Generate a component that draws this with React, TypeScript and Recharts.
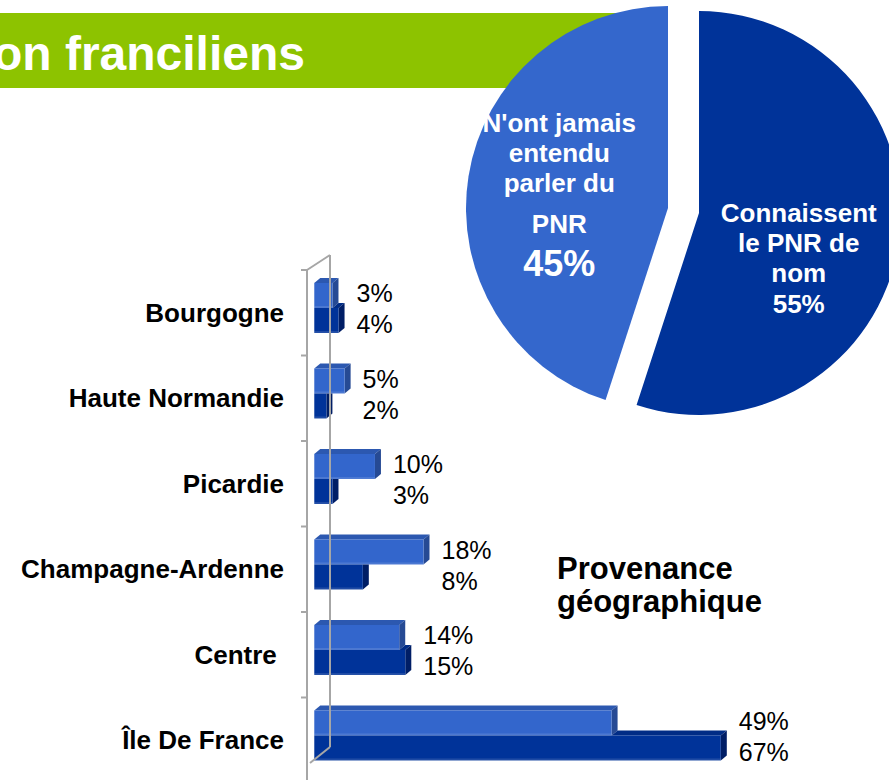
import React from 'react';
import { BarChart, Bar, XAxis, YAxis, LabelList, PieChart, Pie, Cell } from 'recharts';

const FONT = '"Liberation Sans", Arial, Helvetica, sans-serif';

// ---------- data ----------
const regions = ['Bourgogne', 'Haute Normandie', 'Picardie', 'Champagne-Ardenne', 'Centre ', 'Île De France'];
const seriesA = [3, 5, 10, 18, 14, 49]; // light blue bars
const seriesB = [4, 2, 3, 8, 15, 67]; // dark blue bars
const pieNames = ['Connaissent le PNR de nom', "N'ont jamais entendu parler du PNR"];
const pieValues = [55, 45];
const pieLabelLines = [
  ['Connaissent', 'le PNR de', 'nom'],
  ["N'ont jamais", 'entendu', 'parler du', 'PNR'],
];
const bannerText = 'on franciliens';
const titleLines = ['Provenance', 'géographique'];

const barData = regions.map((name, i) => ({ name, a: seriesA[i], b: seriesB[i] }));
const pieData = pieNames.map((name, i) => ({ name, value: pieValues[i] }));

// ---------- layout / style ----------
const W = 889;
const H = 780;
const BAR_MARGIN = { top: 265, right: 150, bottom: 2, left: 0 };
const Y_AXIS_W = 307;
const BAND = (H - BAR_MARGIN.top - BAR_MARGIN.bottom) / regions.length;
const DX = 6;
const DY = 5;
const AXIS = '#A6A6A6';
const LIGHT = { front: '#3366CC', top: '#2C58B0', side: '#264A94' };
const DARK = { front: '#003399', top: '#002C86', side: '#001E66' };
const GREEN = '#8DC300';

const pts = (arr: number[][]) => arr.map((p) => p.join(',')).join(' ');

const make3DBar = (kind: 'a' | 'b') => (props: any) => {
  const { x, y, width, height, payload } = props;
  if (!(width > 0)) return <g />;
  const c = kind === 'a' ? LIGHT : DARK;
  const right = x + width;
  let topStart = x;
  if (kind === 'b') {
    topStart = Math.min(right, x + (width * payload.a) / payload.b);
  }
  const clipSide = kind === 'b' && payload.a > payload.b;
  const side = clipSide
    ? [[right, y], [right + DX, y], [right + DX, y + height - DY], [right, y + height]]
    : [[right, y], [right + DX, y - DY], [right + DX, y + height - DY], [right, y + height]];
  return (
    <g>
      {right > topStart && (
        <polygon points={pts([[topStart, y], [topStart + DX, y - DY], [right + DX, y - DY], [right, y]])} fill={c.top} />
      )}
      <polygon points={pts(side)} fill={c.side} />
      <rect x={x} y={y} width={width} height={height} fill={c.front} />
      <rect x={x} y={y + height - 2} width={width} height={2} fill="#ffffff" opacity={0.12} />
    </g>
  );
};

const makeValueLabel = (kind: 'a' | 'b') => (props: any) => {
  const vb = props.viewBox && props.viewBox.width !== undefined ? props.viewBox : props;
  const { x, y, width, height } = vb;
  let idx = props.index;
  if (idx === undefined || idx === null) idx = Math.floor((y - BAR_MARGIN.top) / BAND);
  const d = barData[idx];
  if (!d) return null;
  const v = kind === 'a' ? d.a : d.b;
  const unit = width / v;
  const maxV = Math.max(d.a, d.b);
  const lx = x + unit * maxV + DX + 12;
  const ly = y + height / 2 + (kind === 'a' ? 7 : 13);
  return (
    <text x={lx} y={ly} fontSize={25} fontFamily={FONT} fill="#000">
      {`${v}%`}
    </text>
  );
};

const CategoryTick = (props: any) => {
  const { x, y, payload, index } = props;
  const boundary = y - BAND / 2 + DY;
  const isFirst = index === 0;
  const backTop = boundary - 15;
  const backBottom = boundary - 15 + BAND * regions.length - 21;
  return (
    <g>
      {isFirst && (
        <g stroke={AXIS} strokeWidth={2} fill="none">
          <line x1={x} y1={boundary} x2={x} y2={H} />
          <line x1={x} y1={boundary} x2={x + 23} y2={backTop} />
          <line x1={x + 23} y1={backTop} x2={x + 23} y2={backBottom} />
          <line x1={x + 23} y1={backBottom} x2={x + 3} y2={backBottom + 16} />
        </g>
      )}
      <line x1={x - 6} y1={boundary} x2={x} y2={boundary} stroke={AXIS} strokeWidth={2} />
      <text
        x={x - 23}
        y={y + 14}
        textAnchor="end"
        fontSize={26}
        fontWeight="bold"
        fontFamily={FONT}
        fill="#000"
        style={{ whiteSpace: 'pre' }}
      >
        {payload.value}
      </text>
    </g>
  );
};

const RAD = Math.PI / 180;
const renderPieLabel = (which: number) => (props: any) => {
  const { cx, cy, midAngle, outerRadius, index } = props;
  if (index !== which) return null;
  const r = outerRadius * 0.54;
  const ax = cx + r * Math.cos(-midAngle * RAD);
  const ay = cy + r * Math.sin(-midAngle * RAD);
  const lines = pieLabelLines[which];
  const value = `${pieValues[which]}%`;
  if (which === 0) {
    const offs = [-8, 22, 52];
    const tx = ax - 8;
    return (
      <g fontFamily={FONT} fontWeight="bold" fill="#fff" textAnchor="middle">
        {lines.map((l, i) => (
          <text key={i} x={tx} y={ay + offs[i]} fontSize={26} fill="#fff" textAnchor="middle">{l}</text>
        ))}
        <text x={tx} y={ay + 83} fontSize={26} fill="#fff" textAnchor="middle">{value}</text>
      </g>
    );
  }
  const offs = [-59, -29, 1, 42];
  const tx = ax - 1;
  return (
    <g fontFamily={FONT} fontWeight="bold" fill="#fff" textAnchor="middle">
      {lines.map((l, i) => (
        <text key={i} x={tx} y={ay + offs[i]} fontSize={26} fill="#fff" textAnchor="middle">{l}</text>
      ))}
      <text x={tx} y={ay + 85} fontSize={36} fill="#fff" textAnchor="middle">{value}</text>
    </g>
  );
};

export default function App() {
  return (
    <div style={{ position: 'relative', width: W, height: H, overflow: 'hidden', background: '#fff', fontFamily: FONT }}>
      <style>{`body{margin:0;}`}</style>
      {/* banner */}
      <svg width={W} height={100} style={{ position: 'absolute', left: 0, top: 0 }}>
        <rect x={0} y={13} width={660} height={75} fill={GREEN} />
        <text x={305} y={70} textAnchor="end" fontSize={48} fontWeight="bold" fontFamily={FONT} fill="#fff">
          {bannerText}
        </text>
      </svg>

      {/* bar chart */}
      <div style={{ position: 'absolute', left: 0, top: 0 }}>
        <BarChart
          width={W}
          height={H}
          data={barData}
          layout="vertical"
          margin={BAR_MARGIN}
          barCategoryGap="21%"
          barGap={0}
        >
          <XAxis type="number" domain={[-1.2, 70]} allowDataOverflow hide />
          <YAxis
            type="category"
            dataKey="name"
            width={Y_AXIS_W}
            axisLine={false}
            tickLine={false}
            tickSize={0}
            tickMargin={0}
            interval={0}
            tick={<CategoryTick />}
          />
          <Bar dataKey="a" isAnimationActive={false} shape={make3DBar('a')}>
            <LabelList dataKey="a" content={makeValueLabel('a')} />
          </Bar>
          <Bar dataKey="b" isAnimationActive={false} shape={make3DBar('b')}>
            <LabelList dataKey="b" content={makeValueLabel('b')} />
          </Bar>
        </BarChart>
      </div>

      {/* pie chart */}
      <div style={{ position: 'absolute', left: 440, top: 0 }}>
        <PieChart width={449} height={430} margin={{ top: 0, right: 0, bottom: 0, left: 0 }}>
          <Pie
            data={pieData}
            dataKey="value"
            nameKey="name"
            cx={259}
            cy={213}
            outerRadius={202}
            startAngle={90}
            endAngle={-270}
            isAnimationActive={false}
            label={renderPieLabel(0)}
            labelLine={false}
          >
            <Cell fill="#003399" stroke="none" />
            <Cell fill="transparent" stroke="none" />
          </Pie>
          <Pie
            data={pieData}
            dataKey="value"
            nameKey="name"
            cx={228}
            cy={208}
            outerRadius={202}
            startAngle={90}
            endAngle={-270}
            isAnimationActive={false}
            label={renderPieLabel(1)}
            labelLine={false}
          >
            <Cell fill="transparent" stroke="none" />
            <Cell fill="#3467CC" stroke="none" />
          </Pie>
        </PieChart>
      </div>

      {/* chart title */}
      <svg width={300} height={80} style={{ position: 'absolute', left: 540, top: 545 }}>
        <text x={17} y={34} fontSize={31} fontWeight="bold" fontFamily={FONT} fill="#000">{titleLines[0]}</text>
        <text x={17} y={67} fontSize={31} fontWeight="bold" fontFamily={FONT} fill="#000">{titleLines[1]}</text>
      </svg>
    </div>
  );
}
